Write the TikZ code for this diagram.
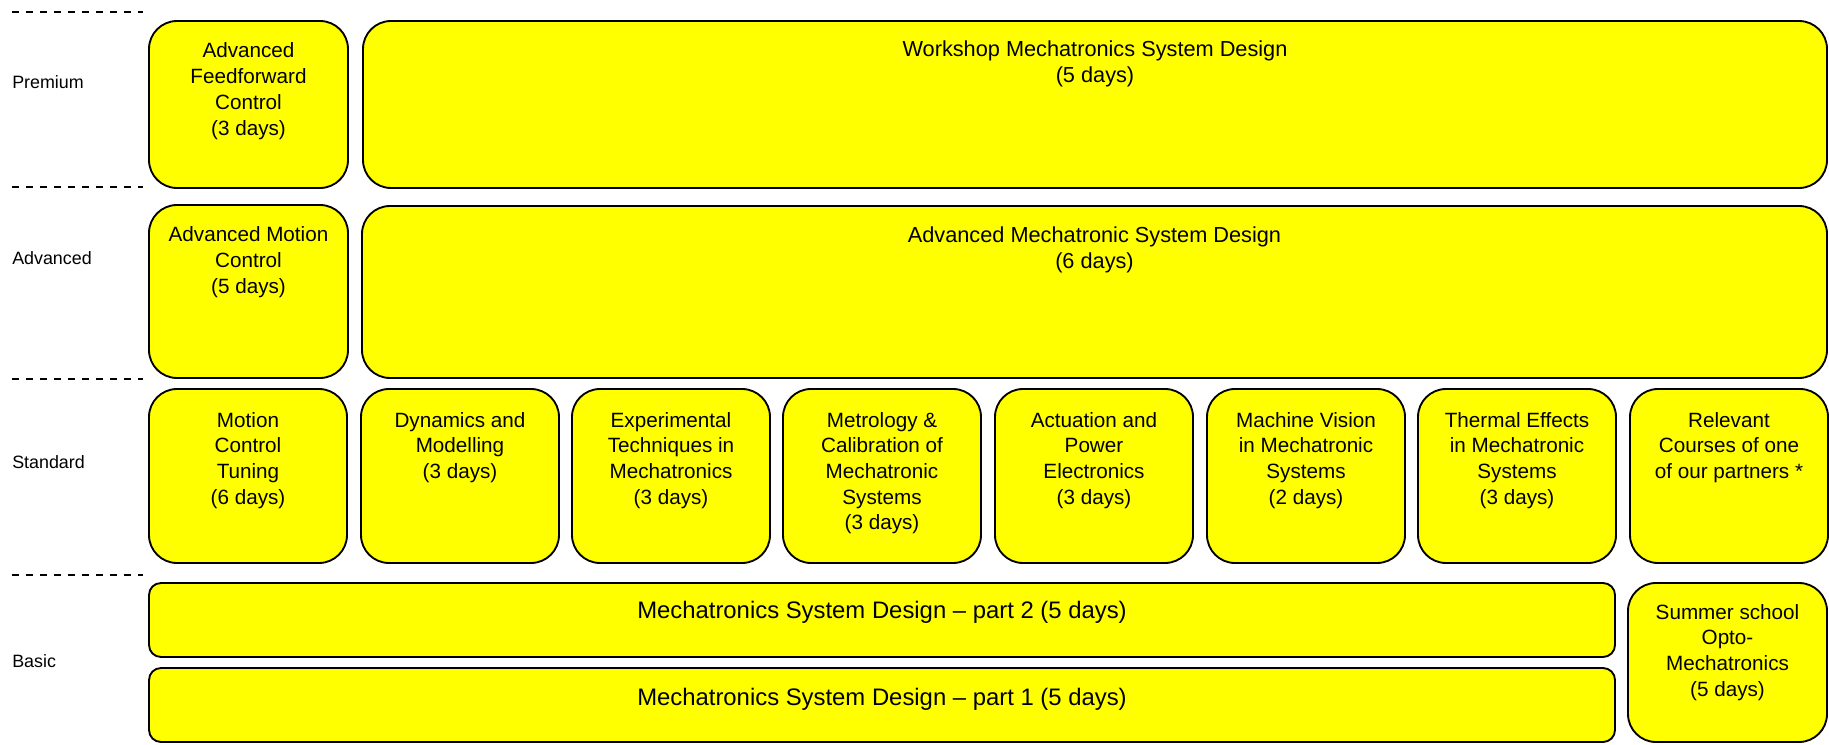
\documentclass[tikz,border=0pt]{standalone}
\usepackage{fontspec}
\setmainfont{Liberation Sans}
\usepackage{tikz}
\usetikzlibrary{calc}
\definecolor{myyellow}{RGB}{255, 255, 0}
\newcommand{\stack}[1]{\begin{tabular}[t]{@{}c@{}}#1\end{tabular}}
\tikzset{
crs/.style = {draw=black, line width=1.4pt, fill=myyellow, rounded corners=21pt},
crsthin/.style = {crs, rounded corners=9pt},
crstxt/.style = {anchor=base, inner sep=0pt, font=\fontsize{15.5}{19.3}\selectfont},
widetxt/.style = {crstxt, font=\fontsize{16.3}{19.3}\selectfont},
basictxt/.style = {anchor=base, inner sep=0pt, font=\fontsize{17.9}{20}\selectfont},
lvl/.style = {anchor=base west, inner sep=0pt, font=\fontsize{13.4}{15}\selectfont},
sep/.style = {line width=1.4pt, dash pattern=on 5.5pt off 5pt}
}

\begin{document}
\begin{tikzpicture}[x=0.75pt, y=-0.75pt]
\useasboundingbox (0,0) rectangle (1829,745);
% level separators and names
\foreach \y in {12, 187, 379, 575}{
\coordinate (sl\y) at (12,\y);
\coordinate (sr\y) at (143,\y);
\draw[sep] (sl\y) -- (sr\y);
}
\node[lvl] (premium) at (12,89) {Premium};
\node[lvl] (advanced) at (12,265) {Advanced};
\node[lvl] (standard) at (12,468) {Standard};
\node[lvl] (basic) at (12,667) {Basic};

% premium
\draw[crs] (149,21) rectangle (348,188);
\node[crstxt] (aff) at (248.5,58) {\stack{Advanced\\Feedforward\\Control\\(3 days)}};
\draw[crs] (363,21) rectangle (1827,188);
\node[widetxt] (wmsd) at (1095,57) {\stack{Workshop Mechatronics System Design\\(5 days)}};

% advanced
\draw[crs] (149,205) rectangle (348,378);
\node[crstxt] (amc) at (248.5,242) {\stack{Advanced Motion\\Control\\(5 days)}};
\draw[crs] (362,206) rectangle (1827,378);
\node[widetxt] (amsd) at (1094.5,243) {\stack{Advanced Mechatronic System Design\\(6 days)}};

% standard
\foreach \x/\nm/\txt in {
149/mct/{Motion\\Control\\Tuning\\(6 days)},
361/dm/{Dynamics and\\Modelling\\(3 days)},
572/etm/{Experimental\\Techniques in\\Mechatronics\\(3 days)},
783/mcms/{Metrology \&\\Calibration of\\Mechatronic\\Systems\\(3 days)},
995/ape/{Actuation and\\Power\\Electronics\\(3 days)},
1207/mvms/{Machine Vision\\in Mechatronic\\Systems\\(2 days)},
1418/tems/{Thermal Effects\\in Mechatronic\\Systems\\(3 days)},
1630/rcp/{Relevant\\Courses of one\\of our partners *}}{
\draw[crs] (\x,389) rectangle ++(198,174);
\node[crstxt] (\nm) at (\x+99,427) {\stack{\txt}};
}

% basic
\draw[crsthin] (149,583) rectangle (1615,657);
\node[basictxt] (msd2) at (882,618) {Mechatronics System Design -- part 2 (5 days)};
\draw[crsthin] (149,668) rectangle (1615,742);
\node[basictxt] (msd1) at (882,705) {Mechatronics System Design -- part 1 (5 days)};
\draw[crs] (1628,583) rectangle (1827,742);
\node[crstxt] (som) at (1727.5,619) {\stack{Summer school\\Opto-\\Mechatronics\\(5 days)}};
\end{tikzpicture}
\end{document}
